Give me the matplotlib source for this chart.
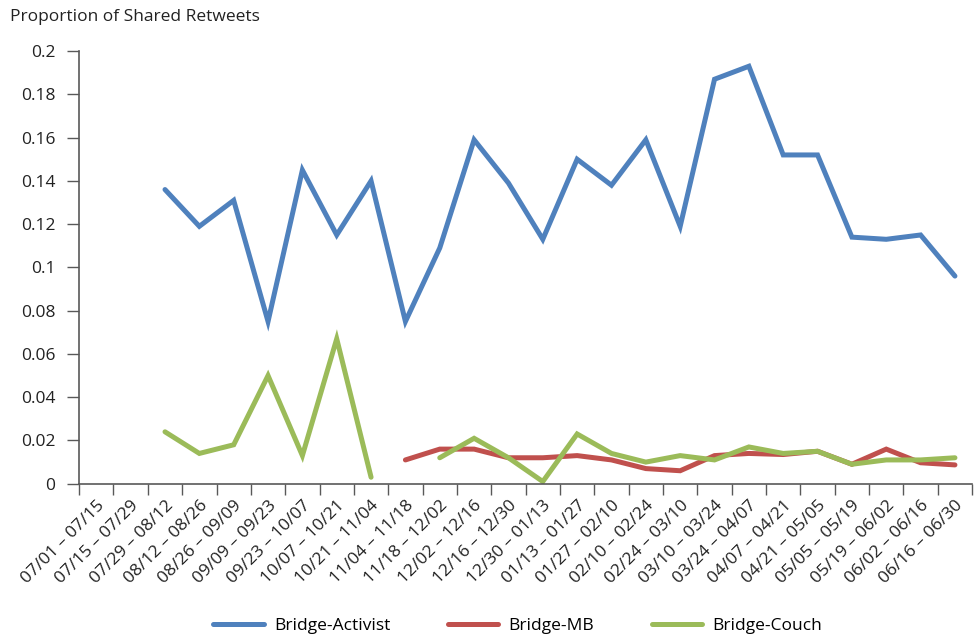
import numpy as np
import matplotlib
matplotlib.use("Agg")
import matplotlib.pyplot as plt

periods = ["07/01 \u2013 07/15", "07/15 \u2013 07/29", "07/29 \u2013 08/12", "08/12 \u2013 08/26",
           "08/26 \u2013 09/09", "09/09 \u2013 09/23", "09/23 \u2013 10/07", "10/07 \u2013 10/21",
           "10/21 \u2013 11/04", "11/04 \u2013 11/18", "11/18 \u2013 12/02", "12/02 \u2013 12/16",
           "12/16 \u2013 12/30", "12/30 \u2013 01/13", "01/13 \u2013 01/27", "01/27 \u2013 02/10",
           "02/10 \u2013 02/24", "02/24 \u2013 03/10", "03/10 \u2013 03/24", "03/24 \u2013 04/07",
           "04/07 \u2013 04/21", "04/21 \u2013 05/05", "05/05 \u2013 05/19", "05/19 \u2013 06/02",
           "06/02 \u2013 06/16", "06/16 \u2013 06/30"]

nan = np.nan
activist = [nan, nan, 0.136, 0.119, 0.131, 0.075, 0.145, 0.115, 0.140, 0.075,
            0.109, 0.159, 0.139, 0.113, 0.150, 0.138, 0.159, 0.119, 0.187, 0.193,
            0.152, 0.152, 0.114, 0.113, 0.115, 0.096]
mb = [nan, nan, nan, nan, nan, nan, nan, nan, nan, 0.011,
      0.016, 0.016, 0.012, 0.012, 0.013, 0.011, 0.007, 0.006, 0.013, 0.014,
      0.0135, 0.015, 0.009, 0.016, 0.0097, 0.0087]
couch = [nan, nan, 0.024, 0.014, 0.018, 0.050, 0.013, 0.067, 0.003, nan,
         0.012, 0.021, 0.012, 0.001, 0.023, 0.014, 0.010, 0.013, 0.011, 0.017,
         0.014, 0.015, 0.009, 0.011, 0.011, 0.012]

plt.rcParams['font.family'] = ['Open Sans', 'DejaVu Sans']
grey = '#595959'

fig = plt.figure(figsize=(9.77, 6.39), dpi=100)
ax = fig.add_axes([0.081, 0.243, 0.914, 0.677])

x = np.arange(len(periods))
ax.plot(x, activist, color='#4F81BD', lw=3.6, solid_capstyle='round', solid_joinstyle='miter', label='Bridge-Activist')
ax.plot(x, mb, color='#C0504D', lw=3.6, solid_capstyle='round', solid_joinstyle='miter', label='Bridge-MB')
ax.plot(x, couch, color='#9BBB59', lw=3.6, solid_capstyle='round', solid_joinstyle='miter', label='Bridge-Couch')

ax.set_xlim(-0.5, len(periods) - 0.5)
ax.set_ylim(0, 0.2)
ax.set_yticks(np.arange(0, 0.201, 0.02))
ax.set_yticklabels(['0', '0.02', '0.04', '0.06', '0.08', '0.1', '0.12', '0.14', '0.16', '0.18', '0.2'])

ax.set_xticks(x)
ax.set_xticklabels(periods, rotation=45, ha='right', rotation_mode='anchor')
ax.set_xticks(np.arange(-0.5, len(periods)), minor=True)
ax.tick_params(axis='x', which='major', length=0, pad=10, labelsize=12.5, colors='#222222')
ax.tick_params(axis='x', which='minor', length=8, width=1, color=grey, direction='out')
ax.tick_params(axis='y', length=9, width=1, color=grey, pad=8, labelsize=12.5, labelcolor='#222222')

for s in ['top', 'right']:
    ax.spines[s].set_visible(False)
for s in ['left', 'bottom']:
    ax.spines[s].set_color(grey)
    ax.spines[s].set_linewidth(1.2)

fig.text(0.01, 0.973, 'Proportion of Shared Retweets', fontsize=12.5, color='#222222', va='center')

fig.legend(loc='center', bbox_to_anchor=(0.53, 0.02), ncol=3, frameon=False,
           fontsize=12.5, handlelength=2.9, columnspacing=3.3, handletextpad=0.6)

fig.savefig('out.png', dpi=100)
